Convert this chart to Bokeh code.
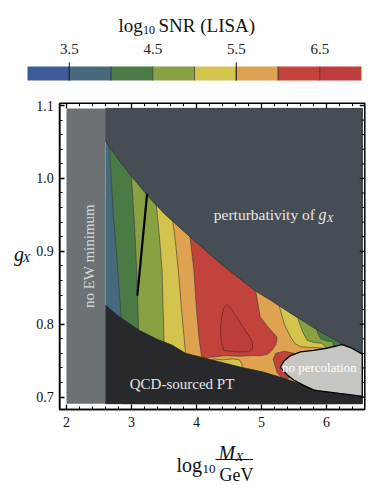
import numpy as np
from bokeh.plotting import figure
from bokeh.models import FixedTicker, LinearAxis, Label, Range1d
from bokeh.embed import file_html
from bokeh.resources import INLINE

FONT = "Liberation Serif"

# ---------------- colour bar data ----------------
cb_levels = [3.0, 3.5, 4.0, 4.5, 5.0, 5.5, 6.0, 6.5, 7.0]
cb_colors = ["#3b5b9a", "#456a7b", "#4a7b45", "#88a143", "#d4c44e", "#dea250", "#c2433b", "#bd3e3a"]
cb_tick_labels = [3.5, 4.5, 5.5, 6.5]
cb_tick_marks = [3.5, 5.5]

# ---------------- main plot data ----------------
x_ticks = [2, 3, 4, 5, 6]
y_ticks = [0.7, 0.8, 0.9, 1.0, 1.1]
y_tick_labels = ["0.7", "0.8", "0.9", "1.0", "1.1"]

x_min, x_max = 2.0, 6.55
g_min, g_max = 0.691, 1.096
ew_edge = 2.6

# perturbativity boundary
upper_x = [2.60, 2.80, 3.00, 3.24, 3.50, 3.91, 4.40, 4.90, 5.14, 5.50, 5.86, 6.24, 6.37, 6.55]
upper_g = [1.051, 1.026, 1.003, 0.977, 0.952, 0.919, 0.881, 0.846, 0.833, 0.812, 0.792, 0.773, 0.768, 0.759]
# QCD-sourced PT boundary
lower_x = [2.60, 2.80, 3.11, 3.40, 3.63, 3.83, 4.06, 4.68, 5.04, 5.40, 5.75, 6.00, 6.47, 6.55]
lower_g = [0.826, 0.811, 0.792, 0.779, 0.771, 0.760, 0.755, 0.741, 0.734, 0.724, 0.712, 0.707, 0.702, 0.701]

# contour lines, left side (low -> high SNR), top to bottom
c40_x = [2.65, 2.66, 2.72, 2.78, 2.84, 2.86]
c40_g = [1.07, 1.045, 0.95, 0.887, 0.81, 0.78]
c45_x = [2.98, 3.00, 3.05, 3.08, 3.11, 3.12]
c45_g = [1.03, 1.003, 0.93, 0.874, 0.79, 0.77]
c50_x = [3.36, 3.38, 3.43, 3.47, 3.50, 3.51]
c50_g = [1.00, 0.965, 0.92, 0.874, 0.775, 0.75]
c55_x = [3.61, 3.63, 3.68, 3.72, 3.77, 3.83, 3.85]
c55_g = [0.98, 0.945, 0.91, 0.874, 0.82, 0.762, 0.74]
# contour lines, right side (high -> low SNR), top to bottom
r55_x = [5.24, 5.27, 5.35, 5.45, 5.52, 5.60, 5.75, 5.85, 5.95, 5.95]
r55_g = [0.86, 0.826, 0.80, 0.782, 0.773, 0.769, 0.768, 0.768, 0.767, 0.74]
r50_x = [5.54, 5.57, 5.63, 5.70, 5.80, 5.92, 5.98, 6.00]
r50_g = [0.84, 0.805, 0.79, 0.778, 0.775, 0.774, 0.770, 0.74]
r45_x = [5.83, 5.86, 5.91, 6.00, 6.10, 6.15]
r45_g = [0.83, 0.789, 0.780, 0.777, 0.776, 0.74]

# SNR >= 6.0 main region
red_x = [3.87, 3.90, 3.96, 4.00, 4.04, 4.08, 4.25, 4.45, 4.65, 4.85, 5.00, 5.10, 5.16, 5.22, 5.24, 5.10, 4.98, 4.91, 4.88]
red_g = [0.95, 0.920, 0.874, 0.82, 0.78, 0.754, 0.755, 0.757, 0.756, 0.757, 0.757, 0.759, 0.764, 0.772, 0.782, 0.796, 0.810, 0.846, 0.87]
# SNR >= 6.5 island
top_x = [4.42, 4.47, 4.53, 4.60, 4.70, 4.80, 4.86, 4.86, 4.80, 4.60, 4.42, 4.38, 4.37, 4.39]
top_g = [0.822, 0.827, 0.822, 0.812, 0.798, 0.785, 0.776, 0.766, 0.762, 0.762, 0.764, 0.775, 0.796, 0.812]
# SNR >= 6.0 patch at the tip of the no-percolation region
tip_x = [5.18, 5.22, 5.35, 5.50, 5.45, 5.42, 5.33, 5.24]
tip_g = [0.752, 0.760, 0.763, 0.760, 0.745, 0.726, 0.724, 0.734]
# SNR < 5.5 patch near the QCD boundary
yel_x = [4.22, 4.26, 4.40, 4.55, 4.66, 4.70, 4.70, 4.22]
yel_g = [0.745, 0.7525, 0.751, 0.7525, 0.751, 0.745, 0.72, 0.72]
# no percolation region
perc_x = [5.29, 5.35, 5.45, 5.60, 5.80, 6.00, 6.24, 6.37, 6.55, 6.55, 6.47, 6.20, 5.86, 5.80, 5.65, 5.50, 5.40, 5.33]
perc_g = [0.741, 0.750, 0.757, 0.762, 0.764, 0.767, 0.772, 0.768, 0.759, 0.701, 0.702, 0.705, 0.709, 0.710, 0.716, 0.723, 0.730, 0.737]
# benchmark segment
bench_x = [3.24, 3.09]
bench_g = [0.979, 0.839]

# ---------------- page-pixel <-> data helpers (layout only) ----------------
W, H = 374, 485
SXP, SYP = 65.0, 729.0            # px per unit of log10 M, px per unit of g
X0 = 2.0 - 66.0 / SXP             # x value at page x = 0
G0 = 1.1 + 105.0 / SYP            # g value at page y = 0
def X(px): return X0 + px / SXP
def G(py): return G0 - py / SYP
CSX, CSY = 83.5, 14.0             # colour bar scales
CX0 = 3.0 - 27.0 / CSX
CY0 = 80.0 / CSY
def CX(px): return CX0 + px / CSX
def CY(py): return CY0 - py / CSY

BOX_L, BOX_R, BOX_T, BOX_B = X(59.3), X(364.3), G(102.7), G(409.0)

p = figure(width=W, height=H, x_range=Range1d(X(0), X(W)), y_range=Range1d(G(H), G(0)),
           x_axis_location=None, y_axis_location=None, output_backend="svg", toolbar_location=None,
           min_border_left=0, min_border_right=0, min_border_top=0, min_border_bottom=0)
p.outline_line_color = None
p.grid.visible = False
p.extra_x_ranges = {"cb": Range1d(CX(0), CX(W))}
p.extra_y_ranges = {"cb": Range1d(CY(H), CY(0))}

def add_label(text, x, y, size, align="left", baseline="alphabetic", style="normal",
              color="#111111", angle=0.0):
    p.add_layout(Label(x=x, y=y, text=text, text_font=FONT, text_font_size=f"{size}px",
                       text_align=align, text_baseline=baseline, text_font_style=style,
                       text_color=color, angle=angle))

# ---------------- colour bar ----------------
p.quad(left=cb_levels[:-1], right=cb_levels[1:], bottom=0, top=1, fill_color=cb_colors,
       line_color=None, x_range_name="cb", y_range_name="cb")
p.segment(x0=cb_levels[1:-1], y0=0, x1=cb_levels[1:-1], y1=1, line_color="#2a2a2a",
          line_width=1, line_alpha=0.7, x_range_name="cb", y_range_name="cb")
p.segment(x0=cb_tick_marks, y0=0, x1=cb_tick_marks, y1=1.3, line_color="#222222",
          line_width=1, x_range_name="cb", y_range_name="cb")
cb_axis = LinearAxis(x_range_name="cb", y_range_name="cb", fixed_location=1.0, bounds=(3.0, 7.0),
                     ticker=FixedTicker(ticks=cb_tick_labels, minor_ticks=[]))
cb_axis.axis_line_color = None
cb_axis.major_tick_line_color = None
cb_axis.major_tick_in = 0
cb_axis.major_tick_out = 0
cb_axis.major_label_standoff = 13
cb_axis.major_label_text_font = FONT
cb_axis.major_label_text_font_size = "15px"
cb_axis.major_label_text_color = "#222222"
p.add_layout(cb_axis, "above")

add_label("log", X(118), G(25), 19)
add_label("10", X(142.5), G(29), 12)
add_label("SNR (LISA)", X(158), G(25), 19)

# ---------------- SNR bands ----------------
EDGE = dict(line_color="#3a3a3a", line_width=1, line_alpha=0.6)
p.patch([ew_edge, x_max, x_max, ew_edge], [g_min, g_min, g_max, g_max], fill_color=cb_colors[1], line_color=None)
p.patch(c40_x + [c40_x[-1], x_max, x_max], c40_g + [g_min, g_min, g_max], fill_color=cb_colors[2], **EDGE)
p.patch(c45_x + [c45_x[-1], r45_x[-1]] + r45_x[::-1], c45_g + [g_min, g_min] + r45_g[::-1], fill_color=cb_colors[3], **EDGE)
p.patch(c50_x + [c50_x[-1], r50_x[-1]] + r50_x[::-1], c50_g + [g_min, g_min] + r50_g[::-1], fill_color=cb_colors[4], **EDGE)
p.patch(c55_x + [c55_x[-1], r55_x[-1]] + r55_x[::-1], c55_g + [g_min, g_min] + r55_g[::-1], fill_color=cb_colors[5], **EDGE)
p.patch(yel_x, yel_g, fill_color=cb_colors[4], **EDGE)
p.patch(red_x, red_g, fill_color=cb_colors[6], **EDGE)
p.patch(tip_x, tip_g, fill_color=cb_colors[6], **EDGE)
p.patch(top_x, top_g, fill_color=cb_colors[7], line_color="#6b2722", line_width=1, line_alpha=0.8)

# ---------------- excluded regions ----------------
p.patch(upper_x + [x_max, upper_x[0]], upper_g + [g_max, g_max], fill_color="#474d54", line_color="#2f3337", line_width=0.8)
p.patch(lower_x + [x_max, lower_x[0]], lower_g + [g_min, g_min], fill_color="#27292c", line_color="#222426", line_width=0.8)
p.patch(perc_x, perc_g, fill_color="#c6c6c3", line_color="black", line_width=1.3)
p.patch([x_min, ew_edge, ew_edge, x_min], [g_min, g_min, g_max, g_max], fill_color="#6b7174", line_color=None)

p.line(bench_x, bench_g, line_color="black", line_width=2.2)

# ---------------- frame, axes and ticks ----------------
p.quad(left=BOX_L, right=BOX_R, bottom=BOX_B, top=BOX_T, fill_color=None, line_color="black", line_width=1.5)

x_minor = [round(v, 2) for v in np.arange(1.8, 6.7, 0.2) if BOX_L < v < BOX_R and round(v, 2) not in x_ticks]
y_minor = [round(v, 3) for v in np.arange(0.68, 1.11, 0.02) if BOX_B < v < BOX_T and round(v, 3) not in y_ticks]

def style_axis(a):
    a.major_tick_in = 5
    a.major_tick_out = 0
    a.minor_tick_in = 3
    a.minor_tick_out = 0
    a.major_tick_line_color = "black"
    a.major_tick_line_width = 1.3
    a.minor_tick_line_color = "black"
    a.minor_tick_line_width = 1
    a.axis_line_color = "black"
    a.axis_line_width = 1.5
    a.major_label_text_font = FONT
    a.major_label_text_font_size = "14px"
    a.major_label_text_color = "#111111"

left_axis = LinearAxis(fixed_location=BOX_L, bounds=(BOX_B, BOX_T),
                       ticker=FixedTicker(ticks=y_ticks, minor_ticks=y_minor))
style_axis(left_axis)
left_axis.major_label_standoff = 6
left_axis.major_label_overrides = {t: s for t, s in zip(y_ticks, y_tick_labels)}
p.add_layout(left_axis, "left")

bottom_axis = LinearAxis(fixed_location=BOX_B, bounds=(BOX_L, BOX_R),
                         ticker=FixedTicker(ticks=x_ticks, minor_ticks=x_minor))
style_axis(bottom_axis)
bottom_axis.major_label_standoff = 7
p.add_layout(bottom_axis, "below")

# inward ticks on the top and right edges of the frame
p.segment(x0=x_ticks, y0=BOX_T, x1=x_ticks, y1=BOX_T - 5 / SYP, line_color="black", line_width=1.3)
p.segment(x0=x_minor, y0=BOX_T, x1=x_minor, y1=BOX_T - 3 / SYP, line_color="black", line_width=1)
p.segment(x0=BOX_R, y0=y_ticks, x1=BOX_R - 5 / SXP, y1=y_ticks, line_color="black", line_width=1.3)
p.segment(x0=BOX_R, y0=y_minor, x1=BOX_R - 3 / SXP, y1=y_minor, line_color="black", line_width=1)

# ---------------- region texts ----------------
add_label("no EW minimum", 2.34, 0.8935, 15, align="center", baseline="middle", color="#d6d9da", angle=np.pi / 2)
add_label("perturbativity of", X(213.3), G(214), 15.5, color="#e8e8e8")
add_label("g", X(318), G(214), 16, style="italic", color="#e8e8e8")
add_label("X", X(326.3), G(217), 11, style="italic", color="#e8e8e8")
add_label("QCD-sourced PT", 3.777, 0.718, 15, align="center", baseline="middle", color="#e6e6e6")
add_label("no percolation", 5.89, 0.740, 13, align="center", baseline="middle", color="#ffffff")

# ---------------- axis titles ----------------
add_label("g", X(13.5), G(253), 20, style="italic")
add_label("X", X(22), G(257), 13, style="italic")
add_label("log", X(176), G(464), 20)
add_label("10", X(202), G(468), 13)
add_label("M", X(218), G(452), 20, style="italic")
add_label("X", X(235), G(456), 13, style="italic")
add_label("GeV", X(219), G(474), 18)
p.line([X(215), X(252.5)], [G(459), G(459)], line_color="#111111", line_width=1.2)

open("out.html", "w").write(file_html(p, INLINE))
